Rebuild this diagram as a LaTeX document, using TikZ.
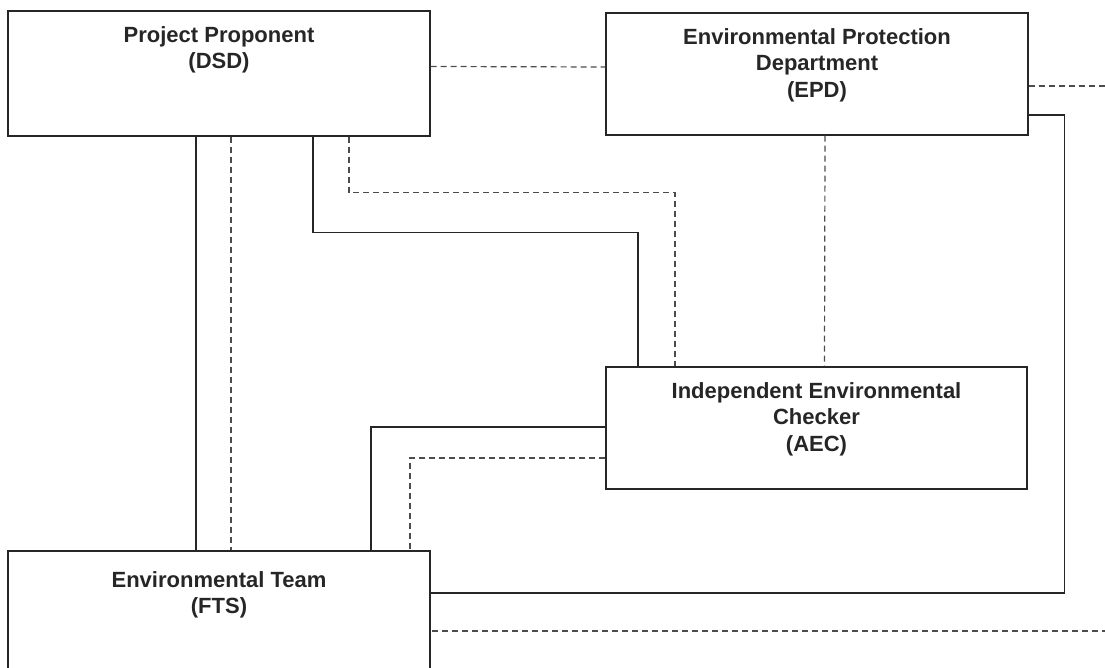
\documentclass[tikz,border=0pt]{standalone}
\usepackage{fontspec}
\setmainfont{Liberation Sans}
\usepackage{tikz}
\usetikzlibrary{positioning}
\usetikzlibrary{calc}
\tikzset{unit/.style={draw=black!85,line width=1.3pt,minimum width=422pt,minimum height=122pt,inner sep=0pt},
caption/.style={align=center,inner sep=0pt,font=\fontsize{22}{26.5}\selectfont\bfseries,text=black!85},
tie/.style={draw=black!85,line width=1.2pt},
liaison/.style={draw=black!70,line width=1.2pt,dash pattern=on 6pt off 4pt}}
\begin{document}
\begin{tikzpicture}[x=1pt,y=-1pt]
\useasboundingbox (0,0) rectangle (1105,668);
\node[unit, minimum height=125pt] (pp) at (219,73.5) {};
\node[unit] (epd) at (817,74) {};
\node[unit, minimum width=421pt] (iec) at (816.5,428) {};
\node[unit, minimum height=121pt] (et) at (219,611.5) {};
\node[caption, below=16pt of pp.north] (ppt) {Project Proponent\\(DSD)};
\node[caption, below=16pt of epd.north] (epdt) {Environmental Protection\\Department\\(EPD)};
\node[caption, below=16pt of iec.north] (iect) {Independent Environmental\\Checker\\(AEC)};
\node[caption, below=21pt of et.north] (ett) {Environmental Team\\(FTS)};
\draw[tie] ([xshift=-23pt]pp.south) -- ([xshift=-23pt]et.north);
\draw[liaison] ([xshift=12pt]pp.south) -- ([xshift=12pt]et.north);
\draw[tie] ([xshift=94pt]pp.south) -- ++(0,96) -| ([xshift=-178.5pt]iec.north);
\draw[liaison] ([xshift=130pt]pp.south) -- ++(0,56) -| ([xshift=-141.5pt]iec.north);
\draw[liaison] ([yshift=7pt]pp.east) -- ([yshift=7pt]epd.west);
\draw[liaison] ([xshift=8pt]epd.south) -- ([xshift=8pt]iec.north);
\draw[tie] ([yshift=-41pt]epd.east) -- ++(36,0) |- ([yshift=18.5pt]et.east);
\draw[liaison] ([yshift=-12pt]epd.east) -- ++(77,0) |- ([yshift=-19.5pt]et.east);
\draw[tie] ([yshift=1pt]iec.west) -| ([xshift=152pt]et.north);
\draw[liaison] ([yshift=-30pt]iec.west) -| ([xshift=191pt]et.north);
\end{tikzpicture}
\end{document}
